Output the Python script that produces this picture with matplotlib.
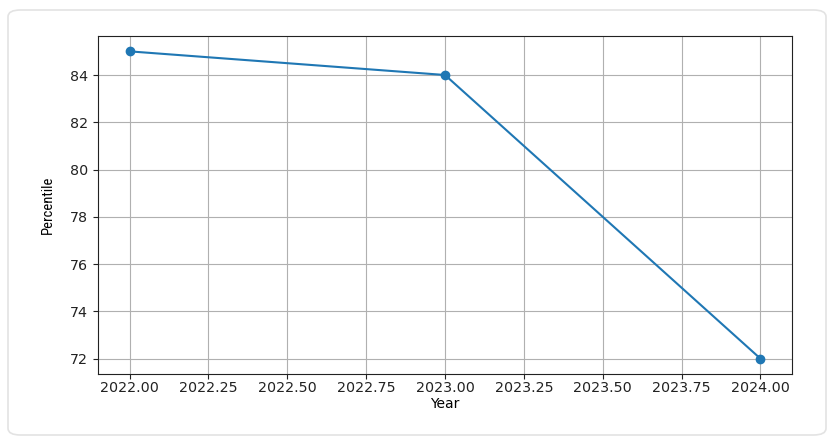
import matplotlib
matplotlib.use("Agg")
import matplotlib.pyplot as plt
from matplotlib.patches import FancyBboxPatch
from matplotlib import font_manager

# data
years = [2022, 2023, 2024]
percentile = [85, 84, 72]

# condensed face for the y label, if one is installed
names = {f.name for f in font_manager.fontManager.ttflist}
narrow = [n for n in ["Roboto Condensed", "Liberation Sans Narrow", "Open Sans Condensed"] if n in names]
narrow = narrow + ["DejaVu Sans"]

fig = plt.figure(figsize=(8.34, 4.41), dpi=100)

# card background with rounded border, behind the axes
card = FancyBboxPatch((8/834, 6/441), 818/834, 425/441,
                      boxstyle="round,pad=0,rounding_size=0.015",
                      transform=fig.transFigure, facecolor="white",
                      edgecolor="#e3e3e3", linewidth=1.2, zorder=-5)
fig.add_artist(card)

ax = fig.add_axes([98/834, 1-374/441, 694/834, 338/441])
ax.plot(years, percentile, marker="o", color="#1f77b4")
ax.grid(True, color="#b0b0b0", linewidth=0.8)
ax.tick_params(labelsize=10.3, colors="#222222")
ax.tick_params(axis="x", pad=1.8)
ax.set_xlabel("Year", fontsize=10, labelpad=1)
ax.set_ylabel("Percentile", fontsize=10.5, family=narrow, stretch="condensed", labelpad=11)
for s in ax.spines.values():
    s.set_color("#222222")

fig.savefig("out.png", dpi=100)
